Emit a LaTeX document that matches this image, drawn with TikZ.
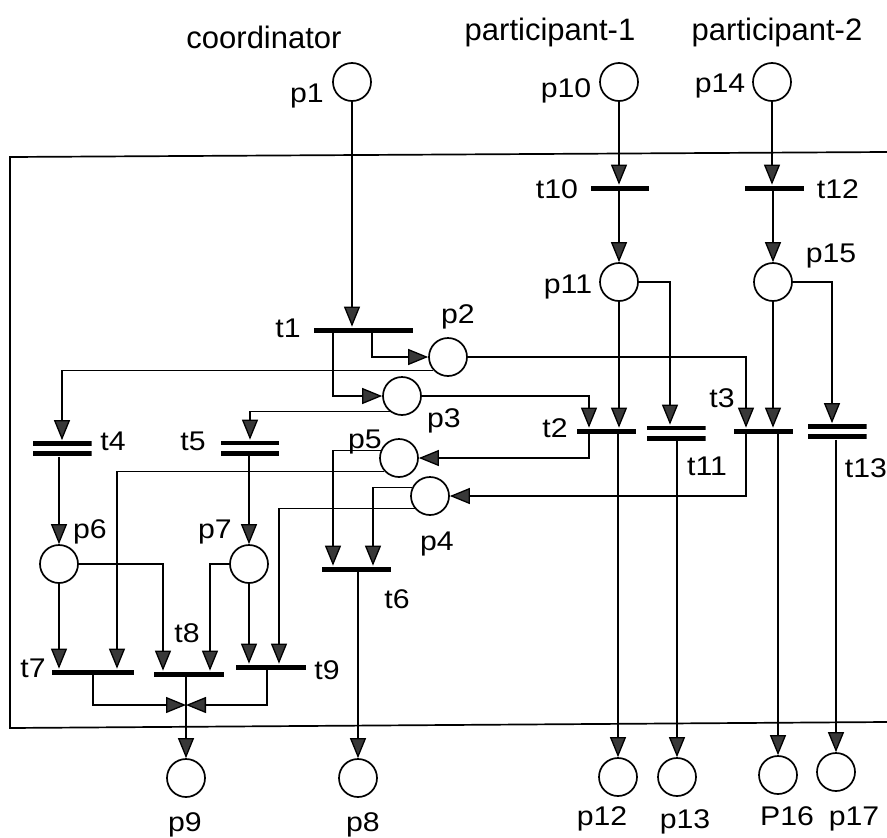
\documentclass[tikz,border=0pt]{standalone}
\usepackage{fontspec}
\setmainfont{Liberation Sans}
\newfontfamily\lblfont[FakeStretch=1.12]{Liberation Sans}
\usetikzlibrary{arrows.meta}
\begin{document}
\begin{tikzpicture}[x=1pt,y=-1pt,line width=1.7pt,
  place/.style={circle,draw,line width=1.7pt,minimum size=38pt,inner sep=0pt},
  tbar/.style={rectangle,fill=black,inner sep=0pt,minimum height=5pt,minimum width=#1},
  tdbl/.style={rectangle,inner sep=0pt,minimum height=15pt,minimum width=#1,
    path picture={\fill[black] (path picture bounding box.north west) rectangle ([yshift=-4.8pt]path picture bounding box.north east);
                  \fill[black] ([yshift=4.8pt]path picture bounding box.south west) rectangle (path picture bounding box.south east);}},
  arr/.style={-{Triangle[length=20pt,width=16pt,fill=black!78,line width=1.3pt]}},
  lbl/.style={font=\lblfont\fontsize{27}{31}\selectfont,inner sep=0pt,anchor=base},
  ttl/.style={font=\fontsize{31}{36}\selectfont,inner sep=0pt,anchor=base}]
\useasboundingbox (0,0) rectangle (887,838);

% box
\draw (887,152) -- (10,157) -- (10,728) -- (887,722);

% titles
\node[ttl] (tc) at (264,48) {coordinator};
\node[ttl] (tp1) at (550,40) {participant-1};
\node[ttl] (tp2) at (777,40) {participant-2};

% places
\node[place] (p1) at (352,82) {};
\node[place] (p10) at (619,82) {};
\node[place] (p14) at (772,82) {};
\node[place] (p11) at (619,282) {};
\node[place] (p15) at (773,282) {};
\node[place] (p2) at (448,357) {};
\node[place] (p3) at (402,396) {};
\node[place] (p5) at (399,458) {};
\node[place] (p4) at (430,496) {};
\node[place] (p6) at (59,564) {};
\node[place] (p7) at (249,564) {};
\node[place] (p9) at (186,778) {};
\node[place] (p8) at (358,778) {};
\node[place] (p12) at (618,777) {};
\node[place] (p13) at (677,777) {};
\node[place] (P16) at (778,775) {};
\node[place] (p17) at (836,772) {};

% transitions
\node[tbar=99pt] (t1) at (363,330) {};
\node[tbar=58pt] (t10) at (620,188) {};
\node[tbar=59pt] (t12) at (774,188) {};
\node[tbar=59pt] (t2) at (606,431) {};
\node[tbar=59pt] (t3) at (763,431) {};
\node[tdbl=59pt] (t11) at (676,433) {};
\node[tdbl=59pt] (t13) at (837,431.5) {};
\node[tdbl=59pt] (t4) at (62,448.5) {};
\node[tdbl=58pt] (t5) at (250,448) {};
\node[tbar=69pt] (t6) at (356,569) {};
\node[tbar=82pt] (t7) at (93,672) {};
\node[tbar=70pt] (t8) at (189,674) {};
\node[tbar=70pt] (t9) at (271,667) {};
\coordinate (j) at (186,705);

% labels
\node[lbl] (lp1) at (307,102) {p1};
\node[lbl] (lp10) at (566,97) {p10};
\node[lbl] (lp14) at (720,92) {p14};
\node[lbl] (lt10) at (557,198) {t10};
\node[lbl] (lt12) at (838,198) {t12};
\node[lbl] (lp15) at (831,262) {p15};
\node[lbl] (lp11) at (568,293) {p11};
\node[lbl] (lt1) at (288,337) {t1};
\node[lbl] (lp2) at (458,323) {p2};
\node[lbl] (lp3) at (444,427) {p3};
\node[lbl] (lp5) at (365,448) {p5};
\node[lbl] (lp4) at (437,550) {p4};
\node[lbl] (lt2) at (555,437) {t2};
\node[lbl] (lt3) at (722,407) {t3};
\node[lbl] (lt11) at (707,475) {t11};
\node[lbl] (lt13) at (866,477) {t13};
\node[lbl] (lt4) at (113,450) {t4};
\node[lbl] (lt5) at (193,450) {t5};
\node[lbl] (lp6) at (90,538) {p6};
\node[lbl] (lp7) at (215,538) {p7};
\node[lbl] (lt6) at (397,608) {t6};
\node[lbl] (lt7) at (33,677) {t7};
\node[lbl] (lt8) at (187,642) {t8};
\node[lbl] (lt9) at (327,679) {t9};
\node[lbl] (lp9) at (185,831) {p9};
\node[lbl] (lp8) at (363,831) {p8};
\node[lbl] (lp12) at (602,825) {p12};
\node[lbl] (lp13) at (685,828) {p13};
\node[lbl] (lP16) at (787,825) {P16};
\node[lbl] (lp17) at (854,825) {p17};

% arcs
\draw[arr] (p1) -- (p1 |- t1.north);
\draw[arr] (p10) -- (p10 |- t10.north);
\draw[arr] (p11 |- t10.south) -- (p11.north);
\draw[arr] (p14) -- (p14 |- t12.north);
\draw[arr] (p15 |- t12.south) -- (p15.north);
\draw[arr] (p11.south) -- (p11.south |- t2.north);
\draw[arr] (p11.east) -| ([xshift=-6pt]t11.north);
\draw[arr] (p15.south) -- (p15.south |- t3.north);
\draw[arr] (p15.east) -| ([xshift=-5pt]t13.north);
\draw[arr] ([xshift=9pt]t1.south) |- (p2.west);
\draw[arr] ([xshift=-30pt]t1.south) |- (p3.west);
\draw[arr] (p2.east) -| ([xshift=-17pt]t3.north);
\draw[arr] (p2.223) -| (t4.north);
\draw[arr] (p3.east) -| ([xshift=-17pt]t2.north);
\draw[arr] (p3.232) -| (t5.north);
\draw[arr] ([xshift=-17pt]t2.south) |- (p5.east);
\draw[arr] ([xshift=-17pt]t3.south) |- (p4.east);
\draw[arr] (p5.158) -| ([xshift=-23pt]t6.north);
\draw[arr] (p5.223) -| ([xshift=24pt]t7.north);
\draw[arr] (p4.155) -| ([xshift=17pt]t6.north);
\draw[arr] (p4.219) -| ([xshift=8pt]t9.north);
\draw[arr] (p6 |- t4.south) -- (p6.north);
\draw[arr] (p7 |- t5.south) -- (p7.north);
\draw[arr] (p6.south) -- (p6.south |- t7.north);
\draw[arr] (p6.east) -| ([xshift=-26pt]t8.north);
\draw[arr] (p7.west) -| ([xshift=21pt]t8.north);
\draw[arr] (p7.south) -- (p7.south |- t9.north);
\draw[arr] (p8 |- t6.south) -- (p8.north);
\draw[arr] (p9 |- t8.south) -- (p9.north);
\draw[arr] (t7.south) |- (j);
\draw[arr] ([xshift=-4pt]t9.south) |- (j);
\draw[arr] (p12 |- t2.south) -- (p12.north);
\draw[arr] (p13 |- t11.south) -- (p13.north);
\draw[arr] (P16 |- t3.south) -- (P16.north);
\draw[arr] (p17 |- t13.south) -- (p17.north);
\end{tikzpicture}
\end{document}
